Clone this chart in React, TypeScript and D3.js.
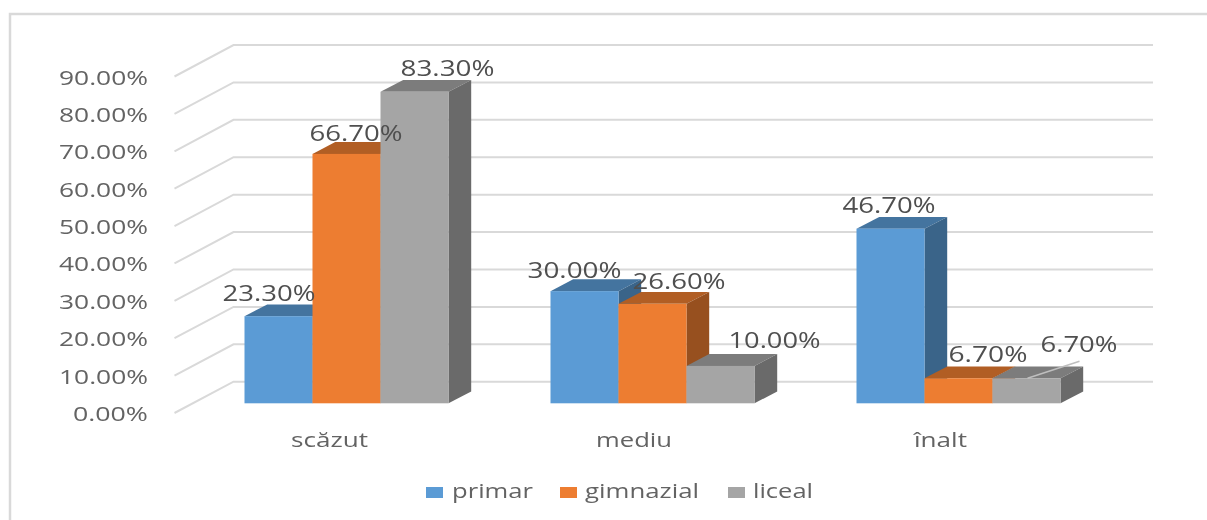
import React from "react";
import * as d3 from "d3";

const categories = ["scăzut", "mediu", "înalt"];
const seriesNames = ["primar", "gimnazial", "liceal"];
const primar = [23.3, 30.0, 46.7];
const gimnazial = [66.7, 26.6, 6.7];
const liceal = [83.3, 10.0, 6.7];
const seriesValues = [primar, gimnazial, liceal];
const ticks = [0, 10, 20, 30, 40, 50, 60, 70, 80, 90];

const W = 1207, H = 520;
const front = ["#5b9bd5", "#ed7d31", "#a5a5a5"];
const top = ["#44749f", "#b15e24", "#7c7c7c"];
const side = ["#3a6489", "#97501f", "#6a6a6a"];

const FONT = "'Open Sans', sans-serif";
const TXT = "#636363";
const DX = 22.7, DY = 11.8;

const yBack = d3.scaleLinear().domain([0, 90]).range([381.7, 45]);
const yFront = d3.scaleLinear().domain([0, 90]).range([413, 76.5]);
const yBar = d3.scaleLinear().domain([0, 90]).range([403.3, 66.8]);
const groupX = d3.scaleBand<string>().domain(categories).range([193.5, 1111.5]);
const BAR = 68;
const barX = (c: number, s: number) => (groupX(categories[c]) as number) + groupX.bandwidth() / 2 - 1.5 * BAR + s * BAR;

const S = ({ x, y, w, size = 20, anchor = "start", children, fill = TXT }: any) => (
  <text
    x={x}
    y={y}
    fontFamily={FONT}
    fontSize={size}
    fill={fill}
    textAnchor={anchor}
    textLength={w}
    lengthAdjust="spacingAndGlyphs"
    filter="url(#soft)"
  >
    {children}
  </text>
);

// label placement relative to the top-left of each bar: [dx, dy, width]
const labelOffsets = [
  [[-22, -15, 93], [-3, -13, 93], [20, -16, 94]],
  [[-23, -13, 94], [14, -15, 93], [42, -18, 92]],
  [[-14, -16, 93], [24, -16, 79], [48, -26, 77]],
];
const catCenters = [329.5, 634, 940.5];
const catWidths = [77, 76, 53];
const legendSwatchX = [426, 560, 728];
const legendTextX = [452, 585, 753];
const legendTextW = [81, 114, 60];

export default function App() {
  return (
    <svg
      width={W}
      height={H}
      viewBox={`0 0 ${W} ${H}`}
      style={{ position: "absolute", left: 0, top: 0, background: "#fff" }}
    >
      <defs>
        <filter id="soft" x="-10%" y="-20%" width="120%" height="140%">
          <feGaussianBlur stdDeviation="0.5" />
        </filter>
      </defs>
      <path d={`M10 520V14H1207`} fill="none" stroke="#d9d9d9" strokeWidth={2.5} />

      {ticks.map((t) => (
        <path
          key={t}
          d={`M174.5 ${yFront(t)}L233.5 ${yBack(t)}H1153`}
          fill="none"
          stroke="#d9d9d9"
          strokeWidth={2}
        />
      ))}

      {ticks.map((t) => (
        <S key={t} x={148} y={yFront(t) + 8} w={t === 0 ? 75 : 89} anchor="end">
          {t.toFixed(2)}%
        </S>
      ))}

      {categories.map((_, c) =>
        [0, 1, 2].map((s) => {
          const v = seriesValues[s][c];
          const x = barX(c, s);
          const y = yBar(v);
          const b = yBar(0);
          return (
            <g key={s}>
              <path d={`M${x} ${y}l${DX} ${-DY}h${BAR}l${-DX} ${DY}Z`} fill={top[s]} />
              <path d={`M${x + BAR} ${y}l${DX} ${-DY}V${b - DY}l${-DX} ${DY}Z`} fill={side[s]} />
              <rect x={x} y={y} width={BAR} height={b - y} fill={front[s]} />
            </g>
          );
        })
      )}

      <path
        d={`M${barX(2, 2) + 35} ${yBar(liceal[2])}L${barX(2, 2) + 87} ${yBar(liceal[2]) - 17}`}
        stroke="#bfbfbf"
        strokeWidth={1.5}
        fill="none"
      />

      {categories.map((_, c) =>
        [0, 1, 2].map((s) => {
          const v = seriesValues[s][c];
          const [ox, oy, w] = labelOffsets[c][s];
          return (
            <S key={s} x={barX(c, s) + ox} y={yBar(v) + oy} w={w} size={21} fill="#505050">
              {v.toFixed(2)}%
            </S>
          );
        })
      )}

      {categories.map((cat, c) => (
        <S key={cat} x={catCenters[c]} y={447} w={catWidths[c]} anchor="middle">
          {cat}
        </S>
      ))}

      {seriesNames.map((n, i) => (
        <g key={n}>
          <rect x={legendSwatchX[i]} y={487} width={17} height={11} fill={front[i]} />
          <S x={legendTextX[i]} y={498} w={legendTextW[i]}>{n}</S>
        </g>
      ))}
    </svg>
  );
}
